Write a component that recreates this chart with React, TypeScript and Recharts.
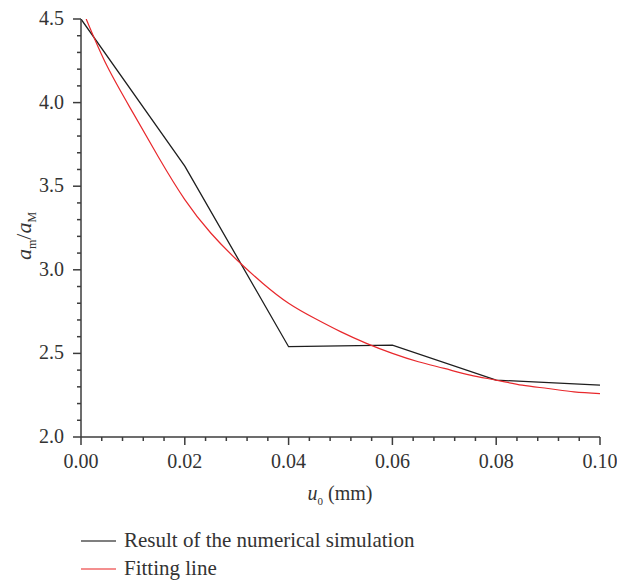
import React from "react";
import { Line, LineChart, XAxis, YAxis } from "recharts";

// numerical simulation result, sampled every 0.02 mm
const simU = [0, 0.02, 0.04, 0.06, 0.08, 0.1];
const simRatio = [4.5, 3.62, 2.54, 2.55, 2.34, 2.31];

// fitted curve
const fitU = [
  0.001, 0.005, 0.01, 0.015, 0.02, 0.025, 0.03, 0.035, 0.04, 0.045, 0.05,
  0.055, 0.06, 0.065, 0.07, 0.075, 0.08, 0.085, 0.09, 0.095, 0.1,
];
const fitRatio = [
  4.5, 4.22, 3.94, 3.67, 3.42, 3.22, 3.06, 2.92, 2.8, 2.71, 2.63, 2.56, 2.5,
  2.45, 2.41, 2.37, 2.34, 2.31, 2.29, 2.27, 2.26,
];

const xMajor = [0, 0.02, 0.04, 0.06, 0.08, 0.1];
const xTicks = [
  0, 0.004, 0.008, 0.012, 0.016, 0.02, 0.024, 0.028, 0.032, 0.036, 0.04,
  0.044, 0.048, 0.052, 0.056, 0.06, 0.064, 0.068, 0.072, 0.076, 0.08, 0.084,
  0.088, 0.092, 0.096, 0.1,
];
const yMajor = [2, 2.5, 3, 3.5, 4, 4.5];
const yTicks = [
  2, 2.1, 2.2, 2.3, 2.4, 2.5, 2.6, 2.7, 2.8, 2.9, 3, 3.1, 3.2, 3.3, 3.4, 3.5,
  3.6, 3.7, 3.8, 3.9, 4, 4.1, 4.2, 4.3, 4.4, 4.5,
];

const simData = simU.map((u, i) => ({ u, ratio: simRatio[i] }));
const fitData = fitU.map((u, i) => ({ u, ratio: fitRatio[i] }));

const FONT = "'Liberation Serif', 'Times New Roman', serif";
const AXIS = "#3c3c3c";

const isMajor = (list: number[], v: number) =>
  list.some((m) => Math.abs(m - v) < 1e-9);

function XTick({ x, y, payload }: any) {
  const major = isMajor(xMajor, payload.value);
  return (
    <g>
      <line x1={x} x2={x} y1={y} y2={y + (major ? 8 : 4)} stroke={AXIS} strokeWidth={1.5} />
      {major && (
        <text x={x} y={y + 31} textAnchor="middle" fontSize={20} fontFamily={FONT} fill="#333">
          {payload.value.toFixed(2)}
        </text>
      )}
    </g>
  );
}

function YTick({ x, y, payload }: any) {
  const major = isMajor(yMajor, payload.value);
  return (
    <g>
      <line x1={x} x2={x - (major ? 8 : 4)} y1={y} y2={y} stroke={AXIS} strokeWidth={1.5} />
      {major && (
        <text x={x - 17} y={y + 6} textAnchor="end" fontSize={20} fontFamily={FONT} fill="#333">
          {payload.value.toFixed(1)}
        </text>
      )}
    </g>
  );
}

export default function App() {
  return (
    <div style={{ position: "absolute", left: 0, top: 0, width: 617, height: 582, background: "#fff" }}>
      <LineChart width={617} height={485} margin={{ top: 19, right: 17, bottom: 15, left: 21 }}>
        <XAxis
          type="number"
          dataKey="u"
          domain={[0, 0.1]}
          ticks={xTicks}
          interval={0}
          tick={<XTick />}
          tickLine={false}
          tickSize={0}
          tickMargin={0}
          height={33}
          allowDataOverflow
          axisLine={{ stroke: AXIS, strokeWidth: 1.5 }}
        />
        <YAxis
          type="number"
          dataKey="ratio"
          domain={[2, 4.5]}
          ticks={yTicks}
          interval={0}
          tick={<YTick />}
          tickLine={false}
          tickSize={0}
          tickMargin={0}
          width={60}
          allowDataOverflow
          axisLine={{ stroke: AXIS, strokeWidth: 1.5 }}
        />
        <Line
          data={simData}
          dataKey="ratio"
          type="linear"
          stroke="#1e1e1e"
          strokeWidth={1.3}
          dot={false}
          isAnimationActive={false}
        />
        <Line
          data={fitData}
          dataKey="ratio"
          type="natural"
          stroke="#e8282c"
          strokeWidth={1.2}
          dot={false}
          isAnimationActive={false}
        />
      </LineChart>

      {/* axis titles and legend */}
      <svg width={617} height={582} style={{ position: "absolute", left: 0, top: 0, pointerEvents: "none" }}>
        <text x={340} y={500} textAnchor="middle" fontSize={20} fontFamily={FONT} fill="#333">
          <tspan fontStyle="italic">u</tspan>
          <tspan fontSize={11} dy={5}>0</tspan>
          <tspan dy={-5}> (mm)</tspan>
        </text>
        <text
          transform="translate(31 236) rotate(-90)"
          textAnchor="middle"
          fontSize={22}
          fontFamily={FONT}
          fill="#333"
        >
          <tspan fontStyle="italic">a</tspan>
          <tspan fontSize={12} dy={5}>m</tspan>
          <tspan dy={-5}>/</tspan>
          <tspan fontStyle="italic">a</tspan>
          <tspan fontSize={12} dy={5}>M</tspan>
        </text>

        <line x1={81} x2={116} y1={541} y2={541} stroke="#555" strokeWidth={1.5} />
        <text x={124} y={547} fontSize={21} fontFamily={FONT} fill="#333">
          Result of the numerical simulation
        </text>
        <line x1={81} x2={116} y1={569} y2={569} stroke="#f06a6a" strokeWidth={1.5} />
        <text x={124} y={575} fontSize={21} fontFamily={FONT} fill="#333">
          Fitting line
        </text>
      </svg>
    </div>
  );
}
